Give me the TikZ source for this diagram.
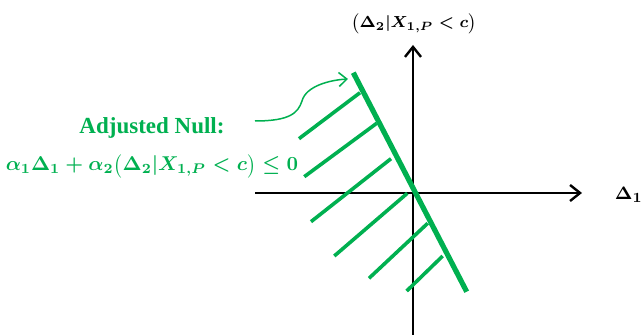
\documentclass[tikz,border=0pt]{standalone}
\usepackage{amsmath, amssymb}
\usepackage{fontspec}
\newfontfamily\hypfont{Liberation Serif}
\usetikzlibrary{arrows.meta}

\definecolor{nullgreen}{RGB}{0,176,80}

\begin{document}
\begin{tikzpicture}[x=0.5pt, y=-0.5pt,
    axis/.style={black, line width=1pt, -{Straight Barb[length=5pt, width=8pt, line width=1.2pt]}},
    hatch/.style={nullgreen, line width=1.8pt},
    boundary/.style={nullgreen, line width=2.6pt},
    mathlbl/.style={font=\fontsize{9.8}{11}\selectfont\boldmath, inner sep=0pt},
    axislbl/.style={font=\fontsize{8.4}{10}\selectfont\boldmath, inner sep=0pt}]
    \useasboundingbox (0, 0) rectangle (644, 335);

    % Axes
    \coordinate (O) at (413, 193);
    \coordinate (xleft) at (255, 193);
    \coordinate (xright) at (582, 193);
    \coordinate (ybottom) at (413, 335);
    \coordinate (ytop) at (413, 45);
    \draw[axis] (xleft) -- (xright);
    \draw[axis] (ybottom) -- (ytop);
    \node[font=\fontsize{9.4}{10}\selectfont\boldmath, inner sep=0pt, anchor=east] (dlone) at (643, 195) {$\Delta_1$};
    \node[axislbl] (dltwo) at (414, 24) {$\bigl(\Delta_2 | X_{1,P} < c\bigr)$};

    % Hatching below the boundary
    \foreach \xa/\ya/\xb/\yb in {360/92.7/299/138.7, 376.7/123.3/304.3/176.7,
        391/158.7/311/221.7, 407.3/193.3/334.3/256,
        427.7/223.3/369/278.3, 442.7/256/406.7/291}
        \draw[hatch] (\xa, \ya) -- (\xb, \yb);

    % Boundary line alpha1 Delta1 + alpha2 Delta2 = 0
    \coordinate (btop) at (353.3, 72.7);
    \coordinate (bbot) at (466.7, 291.7);
    \draw[boundary] (btop) -- (bbot);

    % Label for the adjusted null
    \node[nullgreen, font=\hypfont\bfseries\fontsize{11.5}{13}\selectfont, inner sep=0pt] (nulltxt) at (152, 128) {Adjusted Null:};
    \node[nullgreen, mathlbl] (nullmath) at (152, 166)
        {$\alpha_1\Delta_1 + \alpha_2\bigl(\Delta_2 | X_{1,P} < c\bigr) \le 0$};

    % Curved pointer to the boundary
    \coordinate (armstart) at (255, 121);
    \coordinate (armend) at (348, 79);
    \draw[nullgreen, line width=0.75pt, -{Straight Barb[length=4pt, width=7pt]}]
        (armstart) .. controls (290, 121) and (298, 113) .. (302, 101)
        .. controls (306, 86) and (330, 80) .. (armend);
\end{tikzpicture}
\end{document}
